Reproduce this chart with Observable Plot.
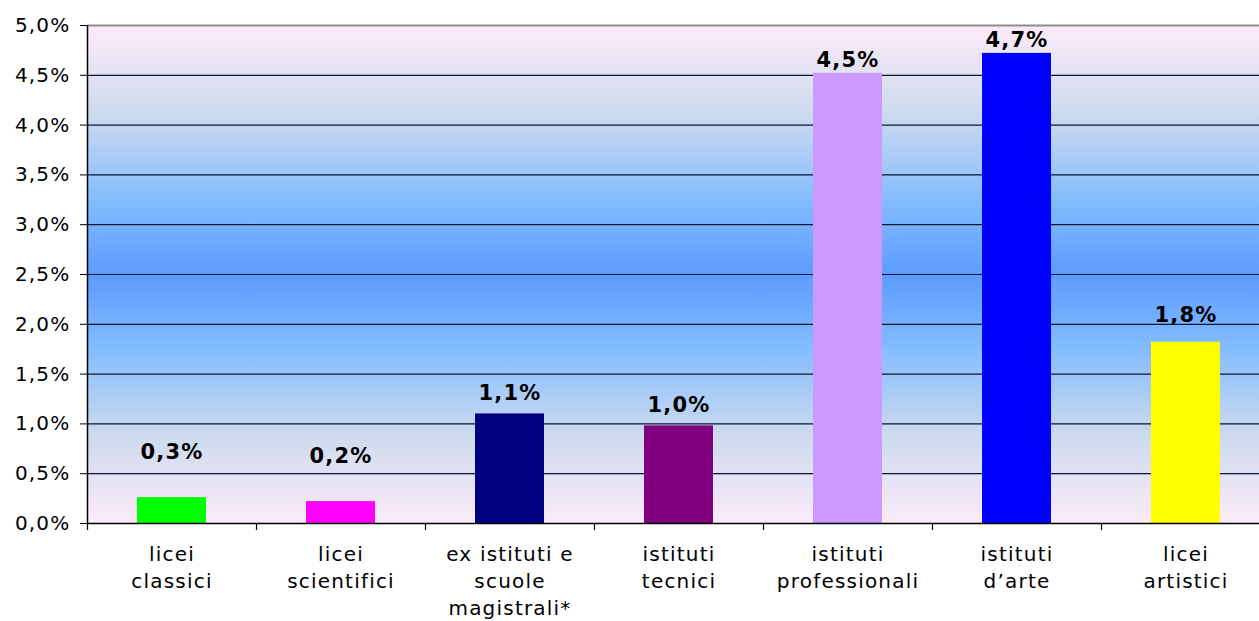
<!DOCTYPE html>
<html>
<head>
<meta charset="utf-8">
<script src="https://cdn.jsdelivr.net/npm/d3@7"></script>
<script src="https://cdn.jsdelivr.net/npm/@observablehq/plot@0.6"></script>
<style>
  html, body { margin: 0; padding: 0; background: #ffffff; }
  #chart svg { display: block; }
</style>
</head>
<body>
<div id="chart"></div>
<script>
const categories = [
  "licei\nclassici",
  "licei\nscientifici",
  "ex istituti e\nscuole\nmagistrali*",
  "istituti\ntecnici",
  "istituti\nprofessionali",
  "istituti\nd’arte",
  "licei\nartistici"
];
const values = [0.26, 0.22, 1.10, 0.98, 4.52, 4.72, 1.82];
const valueLabels = ["0,3%", "0,2%", "1,1%", "1,0%", "4,5%", "4,7%", "1,8%"];
const barColors = ["#00ff00", "#ff00ff", "#000080", "#800080", "#cc99ff", "#0000ff", "#ffff00"];
const yTicks = [0, 0.5, 1, 1.5, 2, 2.5, 3, 3.5, 4, 4.5, 5];
const gridTicks = [0.5, 1, 1.5, 2, 2.5, 3, 3.5, 4, 4.5];

const data = categories.map((c, i) => ({cat: c, value: values[i], label: valueLabels[i], i}));

const W = 1259, H = 621;
const mL = 87, mR = 0, mT = 25, mB = 98;
const step = 169;
const xRange = [mL, mL + step * categories.length];

const gradientDefs = () => {
  const svg = d3.create("svg:g");
  const grad = svg.append("defs").append("linearGradient")
    .attr("id", "bgGrad").attr("x1", 0).attr("y1", 0).attr("x2", 0).attr("y2", 1);
  [[0, "#fcebf8"], [0.18, "#ccdaee"], [0.36, "#80bbff"], [0.5, "#5d9bff"],
   [0.64, "#80bbff"], [0.82, "#ccdaee"], [1, "#fcebf8"]].forEach(([o, c]) =>
    grad.append("stop").attr("offset", o).attr("stop-color", c));
  return svg.node();
};

const labelStyle = {x: "cat", y: "value", text: "label", fontWeight: "bold", fontSize: 21, letterSpacing: "2px", fill: "#000"};
const pick = idx => data.filter(d => idx.includes(d.i));

const chart = Plot.plot({
  width: W,
  height: H,
  marginLeft: mL,
  marginRight: mR,
  marginTop: mT,
  marginBottom: mB,
  style: {fontFamily: "'DejaVu Sans', Verdana, sans-serif", fontSize: "20px", color: "#000", background: "#fff", letterSpacing: "1.2px"},
  x: {domain: categories, range: xRange, paddingInner: 0.592, paddingOuter: 0.296, axis: null},
  y: {domain: [0, 5], ticks: yTicks, tickFormat: d => d.toFixed(1).replace(".", ",") + "%", tickSize: 7, tickPadding: 10, label: null},
  color: {type: "ordinal", domain: categories, range: barColors},
  marks: [
    gradientDefs,
    Plot.frame({fill: "url(#bgGrad)", stroke: null}),
    Plot.ruleY(gridTicks, {stroke: "#0d1530", strokeWidth: 1.2}),
    Plot.ruleY([5], {stroke: "#8c8c8c", strokeWidth: 2}),
    Plot.barY(data, {x: "cat", y: "value", fill: "cat"}),
    Plot.ruleY([0], {stroke: "#000", strokeWidth: 1.5}),
    Plot.ruleX([categories[0]], {x: d => d, dx: -step / 2, y1: 0, y2: 5, stroke: "#000", strokeWidth: 1.5}),
    Plot.ruleX(categories, {x: d => d, dx: -step / 2, y1: 0, y2: -0.07, stroke: "#000", strokeWidth: 1.2}),
    Plot.text(pick([4, 5]), {...labelStyle, dy: -13}),
    Plot.text(pick([2, 3]), {...labelStyle, dy: -21}),
    Plot.text(pick([6]), {...labelStyle, dy: -27}),
    Plot.text(pick([0, 1]), {...labelStyle, dy: -45}),
    Plot.text(categories, {x: d => d, y: 0, text: d => d, dy: 18, lineAnchor: "top", lineHeight: 1.35, fontSize: 20, fill: "#000"})
  ]
});
document.getElementById("chart").appendChild(chart);
</script>
</body>
</html>
